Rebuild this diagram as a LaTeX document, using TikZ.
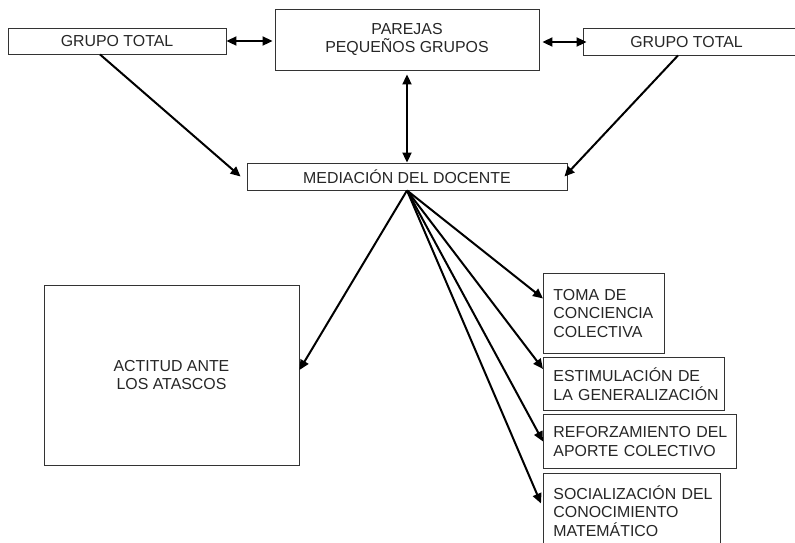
\documentclass[tikz,border=0pt]{standalone}
\usepackage{fontspec}
\setmainfont{Liberation Sans}
\usetikzlibrary{arrows.meta,calc}

\begin{document}
\begin{tikzpicture}[x=1pt,y=-1pt,
  boxline/.style={draw=black!80, line width=0.9pt},
  box/.style={boxline, text=black!85, inner sep=0pt,
    font=\fontsize{15.9}{18.5}\selectfont, align=center},
  lbox/.style={box, align=left, inner xsep=10pt, inner ysep=0pt, anchor=north west},
  link/.style={line width=2pt, -{Triangle[length=10pt,width=9pt]}},
  dlink/.style={line width=2pt, {Triangle[length=10pt,width=9pt]}-{Triangle[length=10pt,width=9pt]}}
]
\useasboundingbox (0,0) rectangle (795,542);

% upper row
\node[box, minimum width=218pt, minimum height=26pt] (gtl) at (117,41) {GRUPO TOTAL};
\node[box, minimum width=264pt, minimum height=61pt] (par) at (407,39.5) {PAREJAS\\PEQUEÑOS GRUPOS};
\node[box, draw=none, minimum width=205pt, minimum height=26pt] (gtr) at (686.5,42) {GRUPO TOTAL};
\draw[boxline] ([xshift=20pt]gtr.north east) -- (gtr.north west) -- (gtr.south west) -- ([xshift=20pt]gtr.south east);

% teacher mediation
\node[box, minimum width=320pt, minimum height=27pt] (med) at (407,176.5) {MEDIACIÓN DEL DOCENTE};

% outcomes
\node[box, minimum width=255pt, minimum height=180pt] (act) at (171.5,375) {ACTITUD ANTE\\LOS ATASCOS};
\node[lbox, text width=101pt, minimum height=80pt] (toma) at (543,273)
  {\mbox{TOMA DE}\\\mbox{CONCIENCIA}\\\mbox{COLECTIVA}};
\node[lbox, text width=161pt, minimum height=53pt] (est) at (543,357)
  {\mbox{ESTIMULACIÓN DE}\\\mbox{LA GENERALIZACIÓN}};
\node[lbox, text width=173pt, minimum height=54pt] (ref) at (543,414)
  {\mbox{REFORZAMIENTO DEL}\\\mbox{APORTE COLECTIVO}};
\node[lbox, text width=157pt, minimum height=75pt] (soc) at (543,473)
  {\mbox{SOCIALIZACIÓN DEL}\\\mbox{CONOCIMIENTO}\\\mbox{MATEMÁTICO}};

% connectors
\draw[dlink, shorten >=2pt] (gtl.east) -- (gtl.east -| par.west);
\draw[dlink, shorten <=3pt] (par.east |- gtr.west) -- ([xshift=3pt]gtr.west);
\draw[dlink, shorten <=4pt] (par.south) -- (med.north);
\draw[link] ([xshift=-17pt]gtl.south) -- ([xshift=-6pt]med.west);
\draw[link] ([xshift=-8.5pt]gtr.south) -- ([xshift=-3pt]med.east);
\draw[link] (med.south) -- ([yshift=5pt]act.east);
\draw[link] (med.south) -- ([yshift=15pt]toma.west);
\draw[link] (med.south) -- ([yshift=15pt]est.west);
\draw[link] (med.south) -- (ref.west);
\draw[link] (med.south) -- ([yshift=7.5pt,xshift=-2pt]soc.west);
\end{tikzpicture}
\end{document}
